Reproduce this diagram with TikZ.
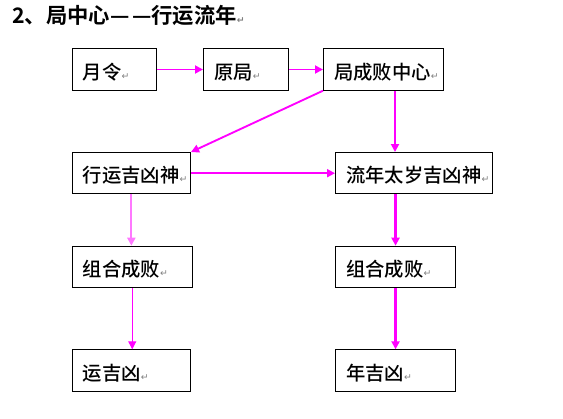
\documentclass[tikz,border=0pt]{standalone}
\usepackage{fontspec}
\usepackage{tikz}
\usetikzlibrary{arrows.meta}
\newfontfamily\cjk{Noto Sans CJK SC Medium}[BoldFont={Noto Sans CJK SC Bold}]
\newfontfamily\symfont{DejaVu Sans}
\definecolor{linkpink}{RGB}{255,0,255}
\definecolor{linklight}{RGB}{255,120,255}
\newcommand{\pmark}{{\symfont\color{gray}\fontsize{7pt}{7pt}\selectfont ↵}}

\begin{document}
\begin{tikzpicture}[x=0.75pt,y=-0.75pt,
    blk/.style={draw, line width=0.8pt, anchor=north west, minimum height=31pt,
        inner xsep=8pt, align=left, text height=16.5pt, text depth=2pt,
        font=\cjk\fontsize{14.5pt}{14.5pt}\selectfont},
    link/.style={linkpink, line width=1.4pt, -{Triangle[length=6pt,width=6pt]}}]
    \useasboundingbox (0,0) rectangle (563,418);

    % title
    \node[anchor=west, inner sep=0pt, font=\cjk\bfseries\fontsize{16pt}{16pt}\selectfont] (title) at (12,15) {2、局中心—\kern2pt—行运流年\pmark};

    % top row
    \node[blk, text width=47pt] (yl) at (71.7,48.3) {月令\pmark};
    \node[blk, text width=47.75pt] (yj) at (203,48.3) {原局\pmark};
    \node[blk, text width=74pt] (jz) at (323,48.3) {局成败中心\pmark};

    % left column
    \node[blk, text width=72.7pt] (xy) at (71.7,152) {行运吉凶神\pmark};
    \node[blk, text width=74pt] (zh1) at (71.7,245.7) {组合成败\pmark};
    \node[blk, text width=72.7pt] (yjx) at (71.7,349.3) {运吉凶\pmark};

    % right column
    \node[blk, text width=101.5pt] (ln) at (335,152) {流年太岁吉凶神\pmark};
    \node[blk, text width=74pt] (zh2) at (335,245.7) {组合成败\pmark};
    \node[blk, text width=74pt] (njx) at (335,349.3) {年吉凶\pmark};

    % connectors
    \draw[link] (yl.east) -- (yj.west);
    \draw[link] (yj.east) -- (jz.west);
    \draw[link] (jz.south west) -- (xy.north east);
    \draw[link] ([xshift=54pt]jz.south west) -- ([xshift=54pt]jz.south west |- ln.north);
    \draw[link] (xy.east) -- (ln.west);
    \draw[link, linklight, line width=1.5pt] (xy.south) -- (xy.south |- zh1.north);
    \draw[link, line width=0.8pt] (zh1.south) -- (zh1.south |- yjx.north);
    \draw[link, line width=2.2pt] (zh2.north |- ln.south) -- (zh2.north);
    \draw[link, line width=2.2pt] (zh2.south) -- (njx.north);
\end{tikzpicture}
\end{document}
